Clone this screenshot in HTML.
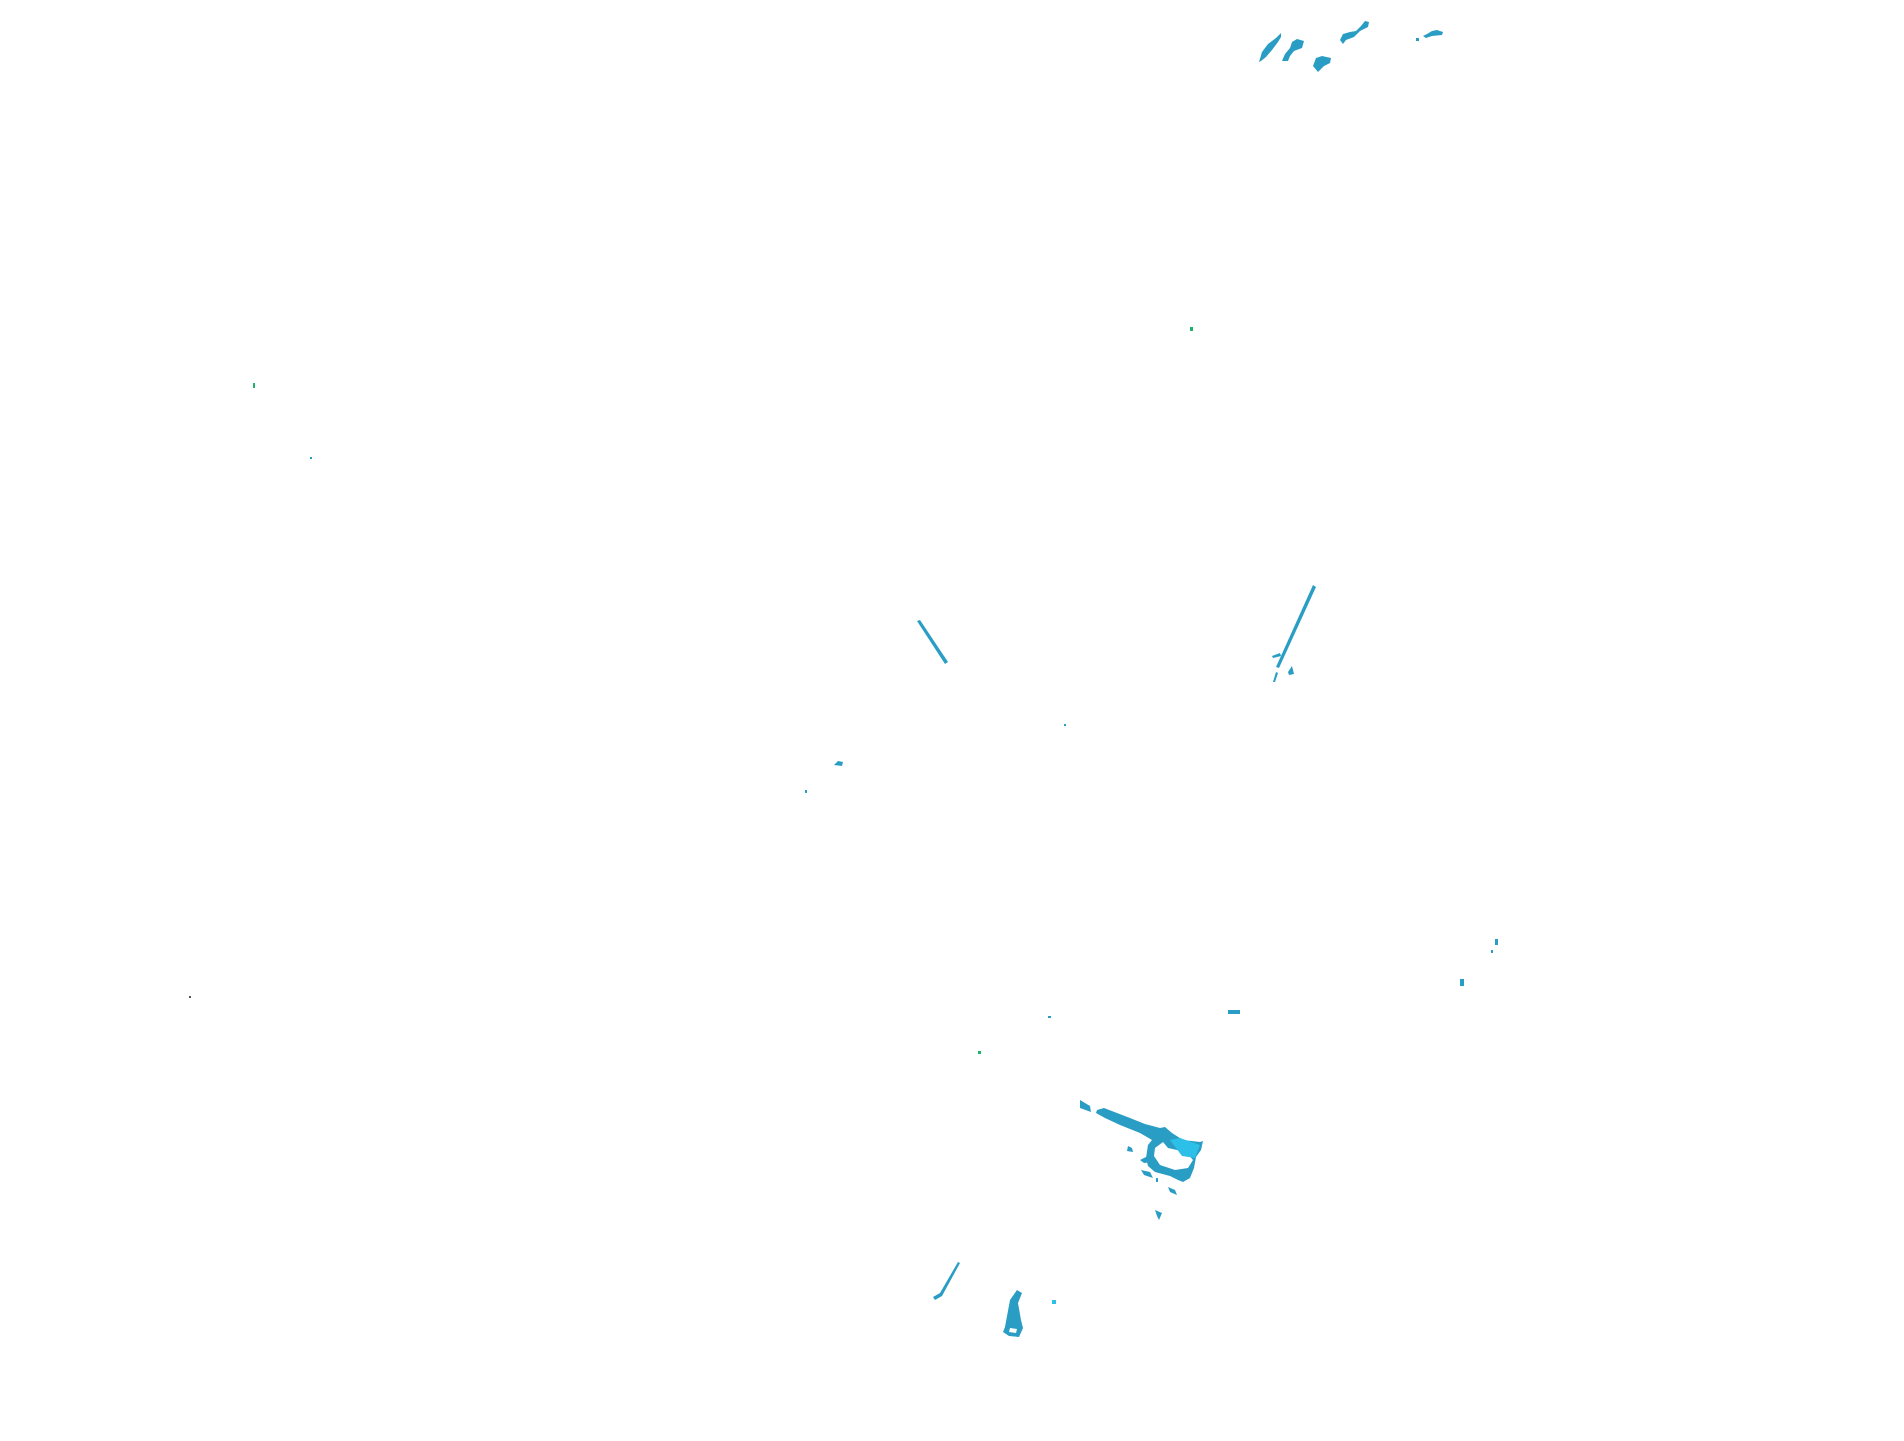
<!DOCTYPE html>
<html><head><meta charset="utf-8"><style>html,body{margin:0;padding:0;background:#fff;width:1904px;height:1441px;overflow:hidden}</style></head>
<body>
<svg width="1904" height="1441" viewBox="0 0 1904 1441" xmlns="http://www.w3.org/2000/svg">
<g fill="#2a9dc4" stroke="none">
<!-- top blobs -->
<path d="M1259,62 L1262,52 L1268,44 L1276,38 L1281,33 L1281,37 L1278,42 L1272,50 L1266,57 L1261,61 Z"/>
<path d="M1282,61 L1285,54 L1290,48 L1292,42 L1297,39 L1304,41 L1302,48 L1294,51 L1290,56 L1288,61 Z"/>
<path d="M1313,66 L1316,58 L1322,56 L1331,58 L1330,63 L1324,66 L1318,72 Z"/>
<path d="M1340,40 L1343,34 L1350,32 L1356,31 L1361,26 L1365,21 L1369,22 L1368,27 L1360,31 L1354,37 L1346,40 L1343,44 Z"/>
<path d="M1423,36 L1427,34 L1432,31 L1437,30 L1443,32 L1442,35 L1432,36 L1426,38 Z"/>
<rect x="1416" y="38" width="3" height="3"/>
<!-- lines -->
<path d="M917,621 L920,620 L948,662 L945,664 Z"/>
<path d="M1313,585 L1316,587 L1279,668 L1276,667 Z"/>
<path d="M1273,682 L1276,672 L1278,673 L1275,682 Z"/>
<path d="M1288,672 L1292,666 L1294,674 L1289,675 Z"/>
<path d="M1272,656 L1280,653 L1281,656 L1273,658 Z"/>
<path d="M834,765 L838,761 L843,762 L842,766 Z"/>
<rect x="805" y="790" width="2" height="3"/>
<rect x="1228" y="1010" width="12" height="4"/>
<rect x="1460" y="979" width="4" height="7"/>
<rect x="1495" y="939" width="3" height="6"/>
<rect x="1491" y="950" width="2" height="3"/>
<rect x="1064" y="724" width="2" height="2"/>
<rect x="1048" y="1016" width="3" height="2"/>
<!-- big wedge -->
<path d="M1080,1100 L1090,1106 L1091,1112 L1080,1108 Z"/>
<path d="M1097,1110 L1104,1108 L1130,1118 L1145,1124 L1160,1128 L1165,1127 L1172,1133 L1183,1140 L1200,1142 L1203,1141 L1201,1150 L1196,1157 L1194,1168 L1190,1178 L1183,1182 L1178,1180 L1170,1176 L1155,1172 L1148,1166 L1146,1158 L1148,1145 L1152,1140 L1140,1133 L1120,1125 L1105,1118 L1096,1113 Z"/>
<path d="M1155,1148 L1163,1142 L1168,1148 L1186,1152 L1193,1160 L1188,1168 L1175,1170 L1160,1165 L1154,1156 Z" fill="#fff"/>
<path d="M1170,1140 L1180,1138 L1200,1145 L1195,1158 L1182,1156 Z" fill="#2cc0e8"/>
<path d="M1140,1160 L1148,1156 L1152,1162 L1144,1163 Z"/>
<path d="M1141,1170 L1150,1172 L1153,1178 L1144,1175 Z"/>
<path d="M1128,1146 L1132,1148 L1133,1152 L1127,1151 Z"/>
<path d="M1168,1187 L1175,1190 L1177,1195 L1170,1192 Z"/>
<path d="M1155,1210 L1162,1213 L1159,1220 L1157,1216 Z"/>
<rect x="1156" y="1178" width="2" height="4"/>
<!-- bottom left -->
<path d="M1005,1327 L1010,1300 L1017,1290 L1022,1293 L1018,1303 L1021,1320 L1023,1328 L1019,1337 L1009,1336 L1003,1332 Z"/>
<path d="M1010,1328 L1017,1329 L1016,1333 L1009,1332 Z" fill="#fff"/>
<rect x="1052" y="1300" width="4" height="4" fill="#2cc0e8"/>
<path d="M958,1262 L960,1263 L942,1296 L935,1300 L933,1297 L940,1293 Z"/>
</g>
<g fill="#1db36a">
<rect x="1190" y="327" width="3" height="4"/>
<rect x="978" y="1051" width="3" height="3"/>
<rect x="253" y="383" width="2" height="5"/>
</g>
<rect x="310" y="457" width="2" height="2" fill="#2a9dc4"/>
<rect x="189" y="996" width="2" height="2" fill="#555"/>
</svg>
</body></html>
